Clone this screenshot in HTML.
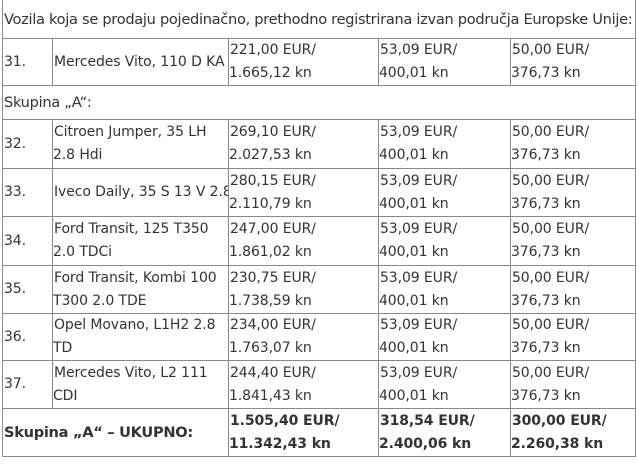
<!DOCTYPE html>
<html><head><meta charset="utf-8">
<style>
html,body{margin:0;padding:0;background:#fff;width:639px;height:464px;overflow:hidden;}
table{position:absolute;left:2px;top:-1px;width:633px;border-collapse:collapse;table-layout:fixed;font-family:"DejaVu Sans","Liberation Sans",sans-serif;font-size:14px;color:#333;line-height:23px;letter-spacing:-0.1px}
td{border:1px solid #8a8a8a;padding:0;text-indent:1px;vertical-align:middle;overflow:hidden;white-space:nowrap}
td.h{font-size:14.6px;letter-spacing:-0.3px}
b{font-weight:bold}
</style></head><body>
<table>
<colgroup><col style="width:50px"><col style="width:176px"><col style="width:150px"><col style="width:132px"><col style="width:125px"></colgroup>
<tr style="height:39px"><td class="h" colspan="5">Vozila koja se prodaju pojedinačno, prethodno registrirana izvan područja Europske Unije:</td></tr>
<tr style="height:45px"><td>31.</td><td>Mercedes Vito, 110 D KA</td><td>221,00 EUR/<br>1.665,12 kn</td><td>53,09 EUR/<br>400,01 kn</td><td>50,00 EUR/<br>376,73 kn</td></tr>
<tr style="height:34px"><td class="h" colspan="5">Skupina „A“:</td></tr>
<tr style="height:49px"><td>32.</td><td>Citroen Jumper, 35 LH<br>2.8 Hdi</td><td>269,10 EUR/<br>2.027,53 kn</td><td>53,09 EUR/<br>400,01 kn</td><td>50,00 EUR/<br>376,73 kn</td></tr>
<tr style="height:48px"><td>33.</td><td>Iveco Daily, 35 S 13 V 2.8</td><td>280,15 EUR/<br>2.110,79 kn</td><td>53,09 EUR/<br>400,01 kn</td><td>50,00 EUR/<br>376,73 kn</td></tr>
<tr style="height:49px"><td>34.</td><td>Ford Transit, 125 T350<br>2.0 TDCi</td><td>247,00 EUR/<br>1.861,02 kn</td><td>53,09 EUR/<br>400,01 kn</td><td>50,00 EUR/<br>376,73 kn</td></tr>
<tr style="height:48px"><td>35.</td><td>Ford Transit, Kombi 100<br>T300 2.0 TDE</td><td>230,75 EUR/<br>1.738,59 kn</td><td>53,09 EUR/<br>400,01 kn</td><td>50,00 EUR/<br>376,73 kn</td></tr>
<tr style="height:47px"><td>36.</td><td>Opel Movano, L1H2 2.8<br>TD</td><td>234,00 EUR/<br>1.763,07 kn</td><td>53,09 EUR/<br>400,01 kn</td><td>50,00 EUR/<br>376,73 kn</td></tr>
<tr style="height:48px"><td>37.</td><td>Mercedes Vito, L2 111<br>CDI</td><td>244,40 EUR/<br>1.841,43 kn</td><td>53,09 EUR/<br>400,01 kn</td><td>50,00 EUR/<br>376,73 kn</td></tr>
<tr style="height:48px"><td class="h" colspan="2"><b>Skupina „A“ – UKUPNO:</b></td><td><b>1.505,40 EUR/<br>11.342,43 kn</b></td><td><b>318,54 EUR/<br>2.400,06 kn</b></td><td><b>300,00 EUR/<br>2.260,38 kn</b></td></tr>
</table>
</body></html>
